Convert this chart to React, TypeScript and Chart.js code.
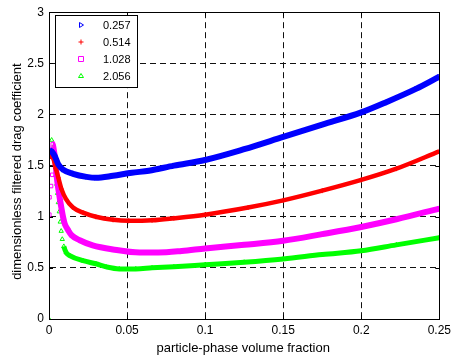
import { useEffect, useRef } from "react";
import { Chart, registerables } from "chart.js";
Chart.register(...registerables);

const seriesLabels = ["0.257", "0.514", "1.028", "2.056"];
const seriesColors = ["#0000ff", "#ff0000", "#ff00ff", "#00ff00"];

const blueX = [0.0003, 0.0017, 0.0038, 0.006, 0.009, 0.0154, 0.024, 0.03, 0.041, 0.053, 0.064, 0.08, 0.1, 0.125, 0.15, 0.175, 0.2, 0.216, 0.235, 0.25];
const blueY = [1.65, 1.64, 1.59, 1.51, 1.46, 1.42, 1.39, 1.38, 1.4, 1.43, 1.45, 1.5, 1.555, 1.66, 1.78, 1.9, 2.02, 2.12, 2.25, 2.37];

const redX = [0.0003, 0.0008, 0.0027, 0.0044, 0.006, 0.008, 0.011, 0.0154, 0.0218, 0.03, 0.041, 0.051, 0.066, 0.08, 0.1, 0.1275, 0.15, 0.175, 0.2, 0.2225, 0.25];
const redY = [1.64, 1.6, 1.57, 1.47, 1.38, 1.27, 1.17, 1.09, 1.04, 1.0, 0.97, 0.96, 0.965, 0.985, 1.02, 1.09, 1.16, 1.255, 1.36, 1.47, 1.64];

const magentaX = [0.0002, 0.0003, 0.0013, 0.0021, 0.0024, 0.003, 0.0038, 0.0049, 0.0059, 0.007, 0.008, 0.0091, 0.0101, 0.0122, 0.0144, 0.0197, 0.028, 0.041, 0.058, 0.07, 0.085, 0.1, 0.125, 0.15, 0.175, 0.2, 0.2225, 0.25];
const magentaY = [1.02, 1.19, 1.3, 1.41, 1.71, 1.66, 1.58, 1.4, 1.28, 1.17, 1.08, 0.99, 0.93, 0.87, 0.82, 0.77, 0.72, 0.68, 0.65, 0.65, 0.665, 0.69, 0.725, 0.765, 0.83, 0.9, 0.975, 1.08];

const greenX = [0, 0.0017, 0.0027, 0.0035, 0.004, 0.0045, 0.005, 0.0055, 0.006, 0.0066, 0.0072, 0.0078, 0.0085, 0.0095, 0.011, 0.0133, 0.0218, 0.03, 0.0366, 0.045, 0.0556, 0.066, 0.08, 0.1, 0.125, 0.15, 0.175, 0.2, 0.2225, 0.25];
const greenY = [0, 1.75, 1.68, 1.59, 1.5, 1.41, 1.32, 1.23, 1.14, 1.05, 0.95, 0.86, 0.78, 0.71, 0.65, 0.62, 0.57, 0.54, 0.51, 0.49, 0.49, 0.5, 0.51, 0.53, 0.555, 0.587, 0.63, 0.667, 0.725, 0.795];

const xTicks = [0, 0.05, 0.1, 0.15, 0.2, 0.25];
const yTicks = [0, 0.5, 1, 1.5, 2, 2.5, 3];

const xTitle = "particle-phase volume fraction";
const yTitle = "dimensionless filtered drag coefficient";

const FONT = '"Liberation Sans", Arial, sans-serif';

function pts(xs: number[], ys: number[]) {
  return xs.map((x, i) => ({ x, y: ys[i] }));
}

function drawMarker(ctx: CanvasRenderingContext2D, kind: number, x: number, y: number, color: string) {
  ctx.save();
  ctx.strokeStyle = color;
  ctx.lineWidth = 1;
  ctx.beginPath();
  const r = 2.5;
  if (kind === 0) {
    ctx.moveTo(x + r, y);
    ctx.lineTo(x - r * 0.6, y - r);
    ctx.lineTo(x - r * 0.6, y + r);
    ctx.closePath();
  } else if (kind === 1) {
    ctx.moveTo(x - r, y);
    ctx.lineTo(x + r, y);
    ctx.moveTo(x, y - r);
    ctx.lineTo(x, y + r);
  } else if (kind === 2) {
    ctx.rect(x - r, y - r, 2 * r, 2 * r);
  } else {
    ctx.moveTo(x, y - r);
    ctx.lineTo(x + r, y + r * 0.6);
    ctx.lineTo(x - r, y + r * 0.6);
    ctx.closePath();
  }
  ctx.stroke();
  ctx.restore();
}

const framePlugin = {
  id: "frame",
  afterDraw(chart: any) {
    const ctx: CanvasRenderingContext2D = chart.ctx;
    const a = chart.chartArea;
    const xs = chart.scales.x;
    const ys = chart.scales.y;
    ctx.save();
    ctx.strokeStyle = "#000";
    ctx.lineWidth = 1;
    ctx.beginPath();
    xTicks.forEach((v) => {
      const px = Math.round(xs.getPixelForValue(v)) + 0.5;
      ctx.moveTo(px, a.bottom);
      ctx.lineTo(px, a.bottom - 4);
      ctx.moveTo(px, a.top);
      ctx.lineTo(px, a.top + 4);
    });
    yTicks.forEach((v) => {
      const py = Math.round(ys.getPixelForValue(v)) + 0.5;
      ctx.moveTo(a.left, py);
      ctx.lineTo(a.left + 4, py);
      ctx.moveTo(a.right, py);
      ctx.lineTo(a.right - 4, py);
    });
    ctx.stroke();
    ctx.strokeRect(Math.round(a.left) + 0.5, Math.round(a.top) + 0.5, Math.round(a.right - a.left), Math.round(a.bottom - a.top));

    const lx = 55, ly = 15, lw = 82, lh = 72;
    ctx.fillStyle = "#fff";
    ctx.fillRect(lx, ly, lw, lh);
    ctx.strokeStyle = "#000";
    ctx.lineWidth = 1;
    ctx.strokeRect(lx + 0.5, ly + 0.5, lw, lh);
    ctx.font = "11px " + FONT;
    ctx.textBaseline = "middle";
    ctx.textAlign = "left";
    seriesLabels.forEach((lab, i) => {
      const yy = 25 + i * 17;
      drawMarker(ctx, i, 81, yy, seriesColors[i]);
      ctx.fillStyle = "#000";
      ctx.fillText(lab, 103, yy + 0.5);
    });

    ctx.fillStyle = "#000";
    ctx.font = "13px " + FONT;
    ctx.textAlign = "center";
    ctx.textBaseline = "middle";
    ctx.fillText(xTitle, (a.left + a.right) / 2 - 1, 348);
    ctx.save();
    ctx.translate(17, (a.top + a.bottom) / 2 + 6);
    ctx.rotate(-Math.PI / 2);
    ctx.fillText(yTitle, 0, 0);
    ctx.restore();
    ctx.restore();
  },
};

export default function App() {
  const ref = useRef<HTMLCanvasElement | null>(null);
  useEffect(() => {
    if (!ref.current) return;
    const sparseEnd = [0, 0, 4, 13];
    const widths = [6, 4.5, 6, 5];
    const styles: any[] = ["triangle", "cross", "rect", "triangle"];
    const rots = [90, 0, 0, 0];
    const data = [pts(blueX, blueY), pts(redX, redY), pts(magentaX, magentaY), pts(greenX, greenY)];
    const chart = new Chart(ref.current, {
      type: "line",
      data: {
        datasets: data.map((d, i) => ({
          label: seriesLabels[i],
          data: d,
          borderColor: seriesColors[i],
          backgroundColor: seriesColors[i],
          borderWidth: widths[i],
          cubicInterpolationMode: "monotone" as const,
          pointStyle: styles[i],
          rotation: rots[i],
          pointRadius: 2.5,
          pointBorderWidth: 1,
          pointBorderColor: seriesColors[i],
          pointBackgroundColor: "rgba(0,0,0,0)",
          fill: false,
          segment: {
            borderColor: (c: any) => (c.p1DataIndex <= sparseEnd[i] ? "rgba(0,0,0,0)" : seriesColors[i]),
          },
        })),
      },
      options: {
        responsive: false,
        animation: false,
        layout: { padding: { left: 0, top: 9, right: 11, bottom: 0 } },
        plugins: { legend: { display: false }, tooltip: { enabled: false } },
        scales: {
          x: {
            type: "linear",
            min: 0,
            max: 0.25,
            afterBuildTicks: (s: any) => {
              s.ticks = xTicks.map((v) => ({ value: v }));
            },
            afterFit: (s: any) => {
              s.height = 41;
            },
            ticks: {
              color: "#000",
              font: { family: FONT, size: 12 },
              padding: 4,
              maxRotation: 0,
              callback: (v: any) => String(Math.round(Number(v) * 100) / 100),
            },
            grid: { color: "#111", lineWidth: 1, drawTicks: false },
            border: { color: "#000", width: 1, dash: [6, 4] },
          },
          y: {
            type: "linear",
            min: 0,
            max: 3,
            afterBuildTicks: (s: any) => {
              s.ticks = yTicks.map((v) => ({ value: v }));
            },
            afterFit: (s: any) => {
              s.width = 49;
            },
            ticks: {
              color: "#000",
              font: { family: FONT, size: 12 },
              padding: 5,
              callback: (v: any) => String(Math.round(Number(v) * 100) / 100),
            },
            grid: { color: "#111", lineWidth: 1, drawTicks: false },
            border: { color: "#000", width: 1, dash: [6, 4] },
          },
        },
      },
      plugins: [framePlugin],
    });
    return () => chart.destroy();
  }, []);
  return (
    <div style={{ position: "fixed", left: 0, top: 0, width: 455, height: 360, background: "#fff" }}>
      <canvas ref={ref} width={455} height={360} />
    </div>
  );
}
